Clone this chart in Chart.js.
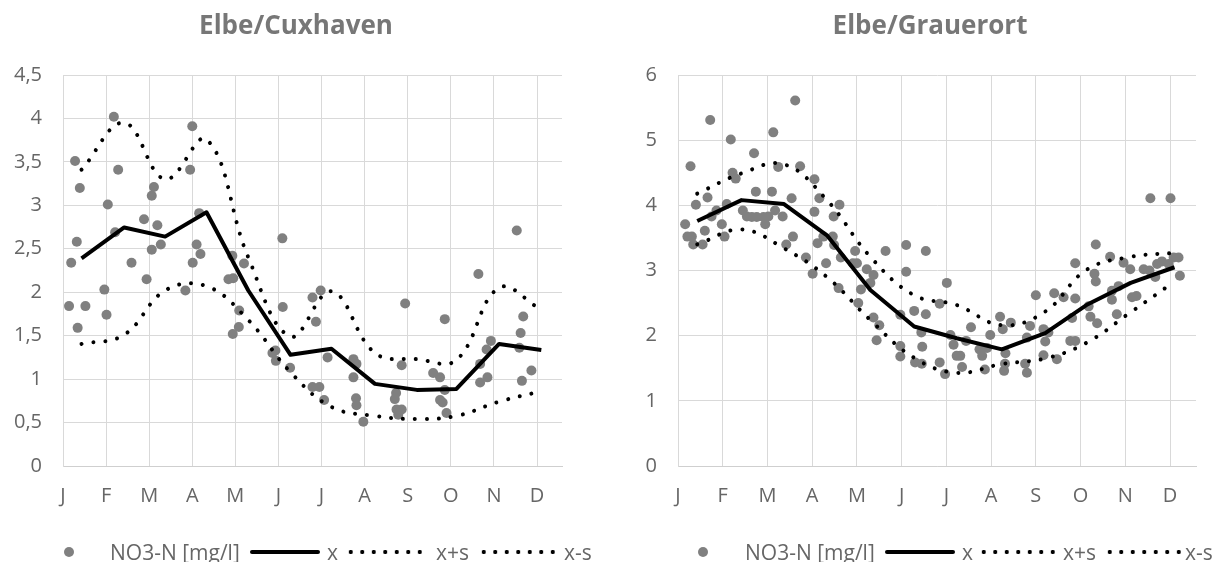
<!DOCTYPE html>
<html lang="de">
<head>
  <meta charset="UTF-8" />
  <title>NO3-N Elbe</title>
  <script src="https://cdn.jsdelivr.net/npm/chart.js"></script>
  <style>
    body {
      margin: 0;
      background: #fff;
      font-family: 'Open Sans', sans-serif;
    }

    .wrap {
      position: relative;
      width: 1217px;
      height: 562px;
      overflow: hidden;
    }

    canvas {
      position: absolute;
      top: 0;
    }

    #cux { left: 0; }
    #grau { left: 643px; }

    .lg {
      position: absolute;
      top: 540px;
      height: 24px;
      line-height: 24px;
      font-size: 21px;
      color: #666;
      white-space: nowrap;
    }

    .lg-dot {
      position: absolute;
      top: 547px;
      width: 10px;
      height: 10px;
      border-radius: 50%;
      background: #808080;
    }

    .lg-solid {
      position: absolute;
      top: 550px;
      width: 70px;
      height: 4px;
      border-radius: 2px;
      background: #000;
    }

    .lg-dotted {
      position: absolute;
      top: 549px;
      width: 78px;
      height: 6px;
      background: radial-gradient(circle, #000 1.9px, transparent 2.3px) 0 0 / 11.5px 6px repeat-x;
    }
  </style>
</head>
<body>

<div class="wrap" id="wrap">
  <canvas id="cux" width="592" height="562"></canvas>
  <canvas id="grau" width="574" height="562"></canvas>
</div>

<script>
// month positions (0 = J) of the monthly statistics
const monthLabels = ['J', 'F', 'M', 'A', 'M', 'J', 'J', 'A', 'S', 'O', 'N', 'D'];
const monthMid = [0.43, 1.42, 2.37, 3.33, 4.30, 5.28, 6.23, 7.24, 8.21, 9.13, 10.12, 11.1];

// Elbe/Cuxhaven
const cuxYLabels = ['0', '0,5', '1', '1,5', '2', '2,5', '3', '3,5', '4', '4,5'];
const cuxMean  = [2.39, 2.745, 2.64, 2.92, 2.02, 1.28, 1.35, 0.945, 0.876, 0.887, 1.405, 1.336];
const cuxUpper = [3.41, 3.95, 3.30, 3.76, 2.40, 1.49, 2.01, 1.30, 1.23, 1.22, 2.05, 1.80];
const cuxLower = [1.405, 1.51, 2.02, 2.07, 1.68, 1.08, 0.68, 0.576, 0.54, 0.576, 0.74, 0.86];
const cuxSamples = [
  [0.14, 1.84], [0.19, 2.34], [0.28, 3.51], [0.32, 2.58], [0.34, 1.59], [0.39, 3.20], [0.52, 1.84],
  [0.96, 2.03], [1.01, 1.74], [1.04, 3.01], [1.18, 4.02], [1.21, 2.69], [1.28, 3.41], [1.59, 2.34],
  [1.88, 2.84], [1.94, 2.15], [2.06, 2.49], [2.06, 3.11], [2.11, 3.21], [2.19, 2.77], [2.27, 2.55],
  [2.84, 2.02], [2.95, 3.41], [3.00, 3.91], [3.01, 2.34], [3.10, 2.55], [3.16, 2.91], [3.19, 2.44],
  [3.84, 2.15], [3.93, 2.42], [3.94, 1.52], [3.95, 2.16], [4.08, 1.60], [4.09, 1.79], [4.20, 2.33],
  [4.86, 1.30], [4.93, 1.33], [4.94, 1.21], [5.09, 2.62], [5.10, 1.83], [5.27, 1.13],
  [5.79, 1.94], [5.79, 0.91], [5.87, 1.66], [5.95, 0.91], [5.98, 2.02], [6.06, 0.76], [6.14, 1.25],
  [6.74, 1.23], [6.74, 1.02], [6.80, 0.78], [6.81, 1.175], [6.81, 0.70], [6.97, 0.51],
  [7.70, 0.77], [7.73, 0.84], [7.74, 0.65], [7.78, 0.59], [7.86, 1.16], [7.86, 0.65], [7.94, 1.87],
  [8.59, 1.07], [8.75, 1.02], [8.75, 0.76], [8.81, 0.73], [8.86, 1.69], [8.86, 0.875], [8.90, 0.61],
  [9.64, 2.21], [9.68, 1.175], [9.68, 0.96], [9.83, 1.34], [9.85, 1.02], [9.93, 1.44],
  [10.53, 2.71], [10.59, 1.36], [10.62, 1.53], [10.65, 0.98], [10.68, 1.72], [10.87, 1.10]
];

// Elbe/Grauerort
const grauYLabels = ['0', '1', '2', '3', '4', '5', '6'];
const grauMean  = [3.76, 4.08, 4.02, 3.54, 2.70, 2.14, 1.96, 1.79, 2.04, 2.47, 2.81, 3.05];
const grauUpper = [4.18, 4.49, 4.63, 4.08, 3.21, 2.62, 2.47, 2.16, 2.37, 3.01, 3.21, 3.27];
const grauLower = [3.40, 3.63, 3.34, 2.90, 2.24, 1.66, 1.43, 1.565, 1.65, 1.89, 2.36, 2.83];
const grauSamples = [
  [0.16, 3.71], [0.21, 3.52], [0.31, 3.52], [0.34, 3.40], [0.28, 4.60], [0.40, 4.01], [0.55, 3.40],
  [0.60, 3.61], [0.66, 4.12], [0.72, 5.31], [0.75, 3.83], [0.86, 3.92], [0.98, 3.71], [1.04, 3.52],
  [1.09, 4.02], [1.18, 5.01], [1.22, 4.50], [1.29, 4.41], [1.45, 3.92], [1.54, 3.83], [1.65, 3.82],
  [1.70, 4.80], [1.74, 4.21], [1.76, 3.82], [1.91, 3.82], [1.95, 3.71], [2.02, 3.83], [2.10, 4.21],
  [2.13, 5.12], [2.17, 3.92], [2.24, 4.59], [2.34, 3.83], [2.42, 3.40], [2.54, 4.11], [2.57, 3.52],
  [2.62, 5.61], [2.73, 4.60], [2.86, 3.20], [3.01, 2.95], [3.05, 3.90], [3.05, 4.40], [3.12, 3.42],
  [3.16, 4.11], [3.25, 3.52], [3.31, 3.11], [3.46, 3.52], [3.48, 3.83], [3.49, 3.39], [3.61, 4.01],
  [3.59, 2.73], [3.64, 3.20], [3.91, 3.11], [4.00, 3.11], [3.96, 3.30], [4.03, 2.50], [4.09, 2.71],
  [4.22, 3.02], [4.37, 2.93], [4.30, 2.81], [4.37, 2.28], [4.50, 2.16], [4.44, 1.93], [4.64, 3.30],
  [4.97, 2.32], [4.97, 1.84], [4.97, 1.68], [5.10, 3.39], [5.10, 2.98],
  [5.54, 3.30], [5.28, 2.38], [5.54, 2.33], [5.44, 2.05], [5.46, 1.83], [5.30, 1.59], [5.45, 1.57],
  [5.85, 2.49], [6.01, 2.81], [5.85, 1.59], [5.97, 1.41], [6.09, 2.01], [6.16, 1.86], [6.23, 1.69],
  [6.31, 1.69], [6.35, 1.52], [6.44, 1.92], [6.55, 2.13], [6.74, 1.79], [6.80, 1.69], [6.86, 1.48],
  [6.91, 1.81], [6.98, 2.01], [7.20, 2.29], [7.26, 2.10], [7.32, 1.73], [7.31, 1.57], [7.29, 1.46],
  [7.44, 2.20], [7.76, 1.57], [7.80, 1.43], [7.87, 2.15], [7.80, 1.97], [8.00, 2.62], [8.17, 2.10],
  [8.28, 2.05], [8.21, 1.91], [8.17, 1.70], [8.41, 2.65], [8.47, 1.64], [8.62, 2.59], [8.81, 2.27],
  [8.77, 1.92], [8.88, 1.92], [8.88, 3.11], [8.88, 2.57], [9.18, 2.45], [9.22, 2.29], [9.37, 2.19],
  [9.31, 2.95], [9.34, 2.83], [9.34, 3.40], [9.66, 3.21], [9.70, 2.69], [9.70, 2.55], [9.81, 2.33],
  [9.85, 2.76], [9.96, 3.12], [10.11, 3.02], [10.15, 2.59], [10.25, 2.61], [10.41, 3.02], [10.54, 3.00],
  [10.67, 2.90], [10.56, 4.11], [10.71, 3.10], [11.01, 4.11], [10.82, 3.14], [10.97, 3.10],
  [11.08, 3.20], [11.19, 3.20], [11.22, 2.92]
];

const legendNames = ['NO3-N [mg/l]', 'x', 'x+s', 'x-s'];

// moves the title sideways after layout (the title is not centred over the plot)
const titleShift = {
  id: 'titleShift',
  afterLayout(chart, args, opts) {
    const t = chart.titleBlock;
    if (t) { t.left += opts.dx; t.right += opts.dx; }
  }
};

function pts(values) {
  return values.map((v, i) => ({ x: monthMid[i], y: v }));
}

function dotted(label, values) {
  return {
    type: 'line', label: label, data: pts(values), order: 2,
    borderColor: '#000', borderWidth: 4, borderDash: [0.01, 12], borderCapStyle: 'round',
    tension: 0.4, pointRadius: 0, fill: false
  };
}

function makeChart(id, title, samples, mean, upper, lower, yMax, yStep, yLabels, yWidth, padRight, dx) {
  new Chart(document.getElementById(id), {
    type: 'scatter',
    plugins: [titleShift],
    data: {
      datasets: [
        {
          label: legendNames[0],
          data: samples.map(p => ({ x: p[0], y: p[1] })),
          backgroundColor: '#808080', borderWidth: 0, pointRadius: 5, order: 5
        },
        {
          type: 'line', label: legendNames[1], data: pts(mean), order: 1,
          borderColor: '#000', borderWidth: 4, borderJoinStyle: 'round',
          tension: 0, pointRadius: 0, fill: false
        },
        dotted(legendNames[2], upper),
        dotted(legendNames[3], lower)
      ]
    },
    options: {
      responsive: false,
      animation: false,
      layout: { padding: { left: 0, right: padRight, top: 0, bottom: 46 } },
      plugins: {
        legend: { display: false },
        tooltip: { enabled: false },
        titleShift: { dx: dx },
        title: {
          display: true, text: title, color: '#777',
          font: { family: 'Open Sans', size: 26, weight: 'bold', lineHeight: 1.2 },
          padding: { top: 11, bottom: 32.8 }
        }
      },
      scales: {
        x: {
          type: 'linear', min: 0, max: 11.58,
          afterFit: s => { s.height = 50; },
          grid: { color: '#d9d9d9', drawTicks: false },
          border: { color: '#cfcfcf' },
          ticks: {
            stepSize: 1, includeBounds: false, padding: 18, color: '#666',
            font: { family: 'Open Sans', size: 20 },
            callback: v => monthLabels[v]
          }
        },
        y: {
          min: 0, max: yMax,
          afterFit: s => { s.width = yWidth; },
          grid: { color: '#d9d9d9', drawTicks: false },
          border: { color: '#d9d9d9' },
          ticks: {
            stepSize: yStep, padding: 21, color: '#666',
            font: { family: 'Open Sans', size: 20 },
            callback: (v, i) => yLabels[i]
          }
        }
      }
    }
  });
}

// left edges of the legend pieces: dot centre, label, line, x, dots, x+s, dots, x-s
function makeLegend(pos) {
  const wrap = document.getElementById('wrap');
  const kinds = ['lg-dot', 'lg', 'lg-solid', 'lg', 'lg-dotted', 'lg', 'lg-dotted', 'lg'];
  const texts = ['', legendNames[0], '', legendNames[1], '', legendNames[2], '', legendNames[3]];
  kinds.forEach((k, i) => {
    const el = document.createElement('div');
    el.className = k;
    el.style.left = (i === 0 ? pos[i] - 5 : pos[i]) + 'px';
    el.textContent = texts[i];
    wrap.appendChild(el);
  });
}

makeChart('cux', 'Elbe/Cuxhaven', cuxSamples, cuxMean, cuxUpper, cuxLower, 4.5, 0.5, cuxYLabels, 63, 30, 15);
makeChart('grau', 'Elbe/Grauerort', grauSamples, grauMean, grauUpper, grauLower, 6, 1, grauYLabels, 35, 21, 10.5);
makeLegend([69, 110, 250, 327, 345, 436, 478, 564]);
makeLegend([703, 745, 885, 962, 978, 1063, 1104, 1185]);
</script>

</body>
</html>
